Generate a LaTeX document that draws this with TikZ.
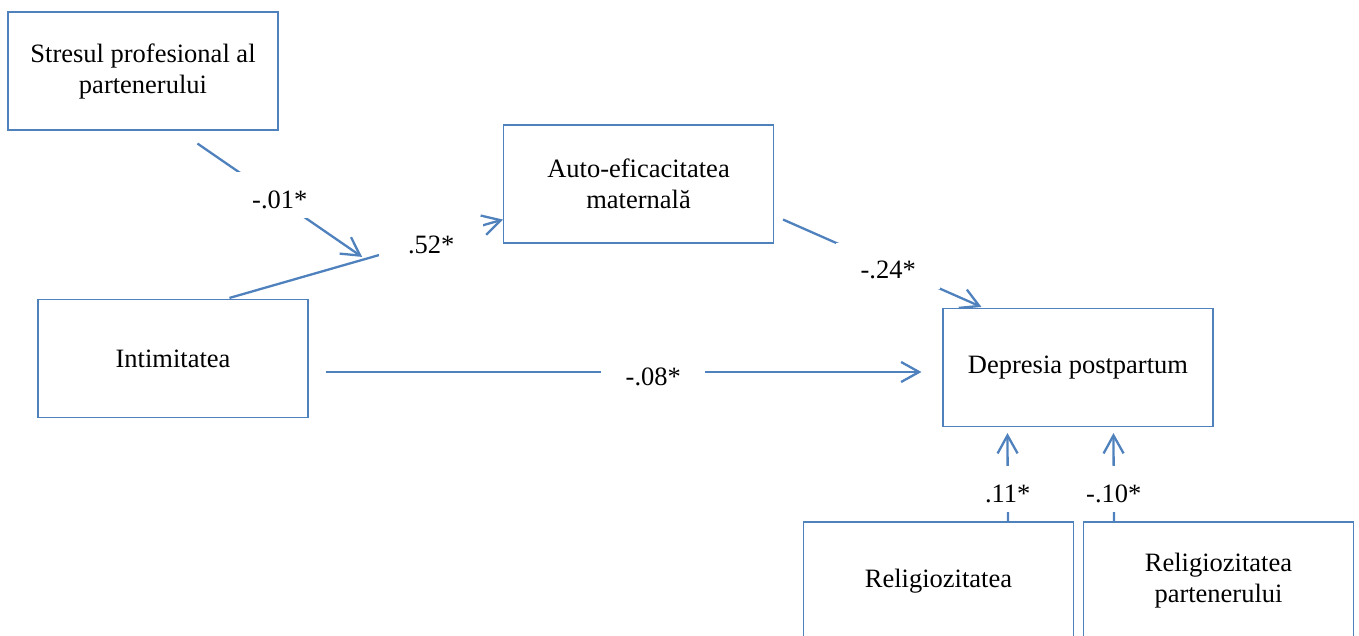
\documentclass[tikz,border=0pt]{standalone}
\usepackage{fontspec}
\setmainfont{Liberation Serif}
\usetikzlibrary{arrows.meta,calc}
\definecolor{accent}{RGB}{79,129,189}
\begin{document}
\begin{tikzpicture}[x=1pt,y=-1pt,
  txt/.style={font=\fontsize{26.5}{31}\selectfont},
  box/.style={txt,draw=accent,line width=1.1pt,minimum width=270pt,
    minimum height=118pt,align=center,inner sep=0pt},
  link/.style={draw=accent,line width=2.3pt,
    -{Straight Barb[length=18pt,width=20pt]}},
  coef/.style={txt,fill=white,minimum width=104pt,minimum height=46pt,
    inner sep=0pt,text height=26pt,text depth=0pt}]
\useasboundingbox (0,0) rectangle (1359,636);

% variables
\node[box] (stress) at (143,71)    {Stresul profesional al\\partenerului};
\node[box] (auto)   at (638.5,184) {Auto-eficacitatea\\maternală};
\node[box] (intim)  at (173,358.5) {Intimitatea};
\node[box] (depr)   at (1078,367.5){Depresia postpartum};
\node[box] (relig)  at (938.5,581) {Religiozitatea};
\node[box] (religp) at (1218.5,581){Religiozitatea\\partenerului};

% path from intimacy to self-efficacy, with the moderation point on it
\coordinate (ia) at ($(intim.north west)+(192,-1)$);
\coordinate (ib) at ($(auto.south west)+(0,-24)$);
\coordinate (j)  at ($(ia)!0.485!(ib)+(0,-3)$);

\draw[link] (ia) -- node[coef,pos=0.738] {.52*} (ib);
\draw[link] ($(stress.south west)+(190,13)$) -- node[coef,pos=0.5,yshift=5pt] {-.01*} (j);
\draw[link] ($(auto.south east)+(9,-24)$) -- node[coef,pos=0.53] {-.24*}
  ($(depr.north west)+(39,-1)$);
\draw[link] ($(intim.east)+(17,13.5)$) -- node[coef,pos=0.55] {-.08*}
  ($(depr.west)+(-21,4.5)$);
\draw[link] ($(relig.north west)+(205,0)$) -- node[coef,pos=0.365] {.11*}
  ($(depr.south west)+(65,6)$);
\draw[link] ($(religp.north west)+(31,0)$) -- node[coef,pos=0.365] {-.10*}
  ($(depr.south west)+(171,6)$);
\end{tikzpicture}
\end{document}
